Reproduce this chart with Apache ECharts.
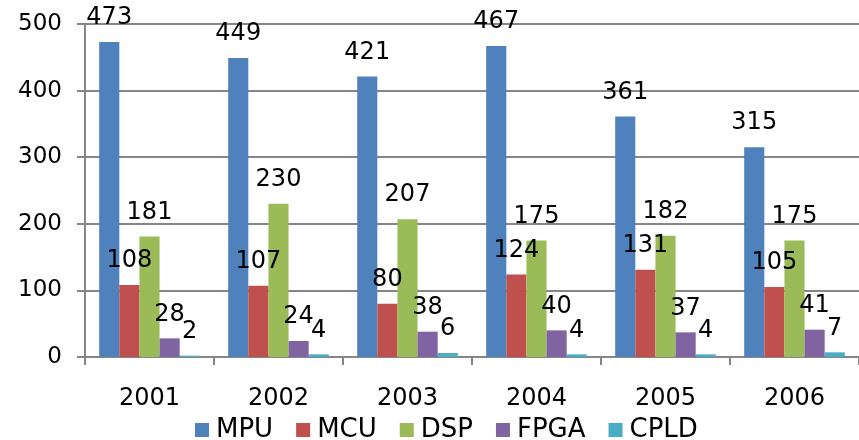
<!DOCTYPE html>
<html>
<head>
<meta charset="utf-8">
<script src="https://cdn.jsdelivr.net/npm/echarts@6/dist/echarts.min.js"></script>
<style>
  html, body { margin: 0; padding: 0; background: #fff; }
  #chart { width: 859px; height: 440px; }
</style>
</head>
<body>
<div id="chart"></div>
<script>
// data
const years = ['2001', '2002', '2003', '2004', '2005', '2006'];
const mpu  = [473, 449, 421, 467, 361, 315];
const mcu  = [108, 107, 80, 124, 131, 105];
const dsp  = [181, 230, 207, 175, 182, 175];
const fpga = [28, 24, 38, 40, 37, 41];
const cpld = [2, 4, 6, 4, 4, 7];
const yTicks = [0, 100, 200, 300, 400, 500];

const FONT = 'DejaVu Sans';
const colors = ['#4F81BD', '#C0504D', '#9BBB59', '#8064A2', '#4BACC6'];

const myChart = echarts.init(document.getElementById('chart'));

const makeSeries = (name, data) => ({
    name: name,
    type: 'bar',
    data: data,
    barGap: '0%',
    barCategoryGap: '22%',
    label: {
        show: true,
        position: 'top',
        distance: 12,
        color: '#000',
        fontFamily: FONT,
        fontSize: 24
    }
});

const option = {
    animation: false,
    color: colors,
    grid: { left: 85, top: 24, bottom: 83, width: 783, containLabel: false },
    legend: {
        left: 190,
        top: 412,
        icon: 'rect',
        itemWidth: 14,
        itemHeight: 14,
        itemGap: 23,
        textStyle: { fontFamily: FONT, fontSize: 26, color: '#000', padding: [0, 0, 0, 2] },
        data: ['MPU', 'MCU', 'DSP', 'FPGA', 'CPLD']
    },
    xAxis: {
        type: 'category',
        data: years,
        axisLine: { lineStyle: { color: '#868686', width: 2 } },
        axisTick: { show: true, length: 8, lineStyle: { color: '#868686', width: 2 } },
        axisLabel: { margin: 30, color: '#000', fontFamily: FONT, fontSize: 24 }
    },
    yAxis: {
        type: 'value',
        min: yTicks[0],
        max: yTicks[yTicks.length - 1],
        interval: 100,
        axisLine: { show: true, lineStyle: { color: '#868686', width: 2 } },
        axisTick: { show: true, length: 8, lineStyle: { color: '#868686', width: 2 } },
        splitLine: { lineStyle: { color: '#868686', width: 2 } },
        axisLabel: { margin: 23, color: '#000', fontFamily: FONT, fontSize: 23 }
    },
    series: [
        makeSeries('MPU', mpu),
        makeSeries('MCU', mcu),
        makeSeries('DSP', dsp),
        makeSeries('FPGA', fpga),
        makeSeries('CPLD', cpld)
    ]
};

myChart.setOption(option);
</script>
</body>
</html>
